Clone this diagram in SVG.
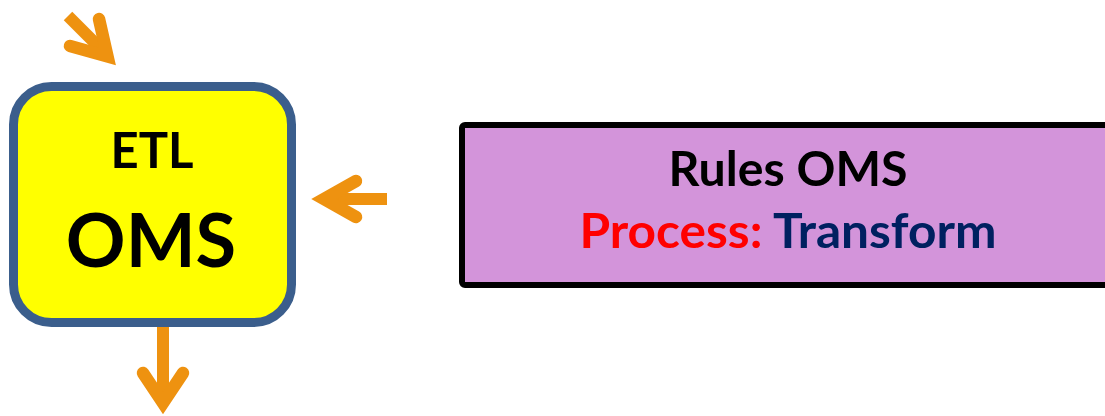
<svg xmlns="http://www.w3.org/2000/svg" width="1105" height="416" viewBox="0 0 1105 416">
<style>
.shaft{fill:none;stroke:#EE9210;stroke-width:12;stroke-linecap:butt}
.head{fill:none;stroke:#EE9210;stroke-width:12.5;stroke-linecap:round;stroke-linejoin:miter;stroke-miterlimit:10}
.t{font-family:Lato,"Liberation Sans",sans-serif;font-weight:bold;text-anchor:middle}
</style>
<rect width="1105" height="416" fill="#FFFFFF"/>
<g id="etl-oms">
<rect x="13.5" y="86.5" width="278" height="236" rx="38" fill="#FFFF00" stroke="#3B5E8C" stroke-width="9"/>
<text class="t" x="152" y="168" font-size="49" fill="#000000">ETL</text>
<text class="t" x="151" y="267" font-size="74" fill="#000000">OMS</text>
</g>
<g id="rules-oms">
<rect x="462" y="125" width="700" height="160" rx="3" fill="#D394DA" stroke="#000000" stroke-width="6"/>
<text class="t" x="788" y="186" font-size="48" fill="#000000" textLength="239" lengthAdjust="spacingAndGlyphs">Rules OMS</text>
<text class="t" x="788" y="248" font-size="48" textLength="417" lengthAdjust="spacingAndGlyphs"><tspan fill="#FF0000">Process:</tspan><tspan fill="#002060"> Transform</tspan></text>
</g>
<g id="connectors">
<path class="shaft" d="M68 16 L104 52"/>
<path class="head" d="M99 19 L107.5 56.5 L70 46"/>
<path class="shaft" d="M387 199 L330 199"/>
<path class="head" d="M356 181 L324 199 L356 217"/>
<path class="shaft" d="M163 327 L163 395"/>
<path class="head" d="M143 373 L163 403 L183 373"/>
</g>
</svg>
